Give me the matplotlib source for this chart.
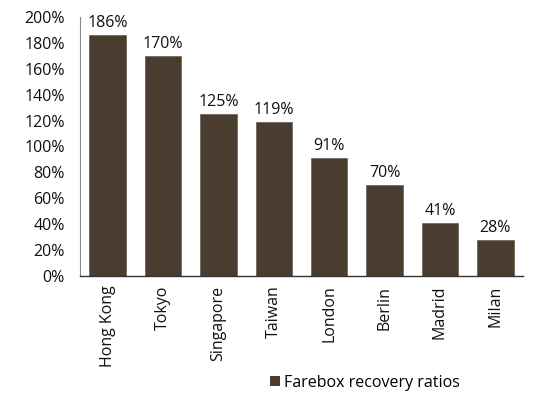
import matplotlib.pyplot as plt
from matplotlib.patches import Patch

cities = ["Hong Kong", "Tokyo", "Singapore", "Taiwan", "London", "Berlin", "Madrid", "Milan"]
ratios = [186, 170, 125, 119, 91, 70, 41, 28]

bar_color = "#4b3c30"
plt.rcParams["font.family"] = ["Open Sans", "DejaVu Sans"]
fs = 11.5

fig = plt.figure(figsize=(5.38, 3.98), dpi=100)
ax = fig.add_axes([80 / 538, 1 - 276 / 398, 443 / 538, 259 / 398])

x = range(len(cities))
bars = ax.bar(x, ratios, width=0.66, color=bar_color, edgecolor="#6b5c50", linewidth=0.5)
for b, v in zip(bars, ratios):
    ax.text(b.get_x() + b.get_width() / 2, v + 3, f"{v}%", ha="center", va="bottom",
            fontsize=fs, color="#111111")

ax.set_xlim(-0.5, len(cities) - 0.5)
ax.set_ylim(0, 200)
ax.set_yticks(range(0, 201, 20))
ax.set_yticklabels([f"{t}%" for t in range(0, 201, 20)])
ax.set_xticks(list(x))
ax.set_xticklabels(cities, rotation=90)
ax.tick_params(axis="both", length=0, labelsize=fs, colors="#111111")
ax.tick_params(axis="y", pad=11)
ax.tick_params(axis="x", pad=7)

for s in ("top", "right"):
    ax.spines[s].set_visible(False)
ax.spines["left"].set_color("#888888")
ax.spines["left"].set_linewidth(0.8)
ax.spines["bottom"].set_color("#333333")
ax.spines["bottom"].set_linewidth(1.0)

handle = Patch(facecolor=bar_color, label="Farebox recovery ratios")
fig.legend(handles=[handle], loc="center", bbox_to_anchor=(365 / 538, 1 - 383 / 398),
           frameon=False, fontsize=fs, handlelength=0.6, handleheight=0.6, handletextpad=0.25)

fig.savefig("out.png", dpi=100)
